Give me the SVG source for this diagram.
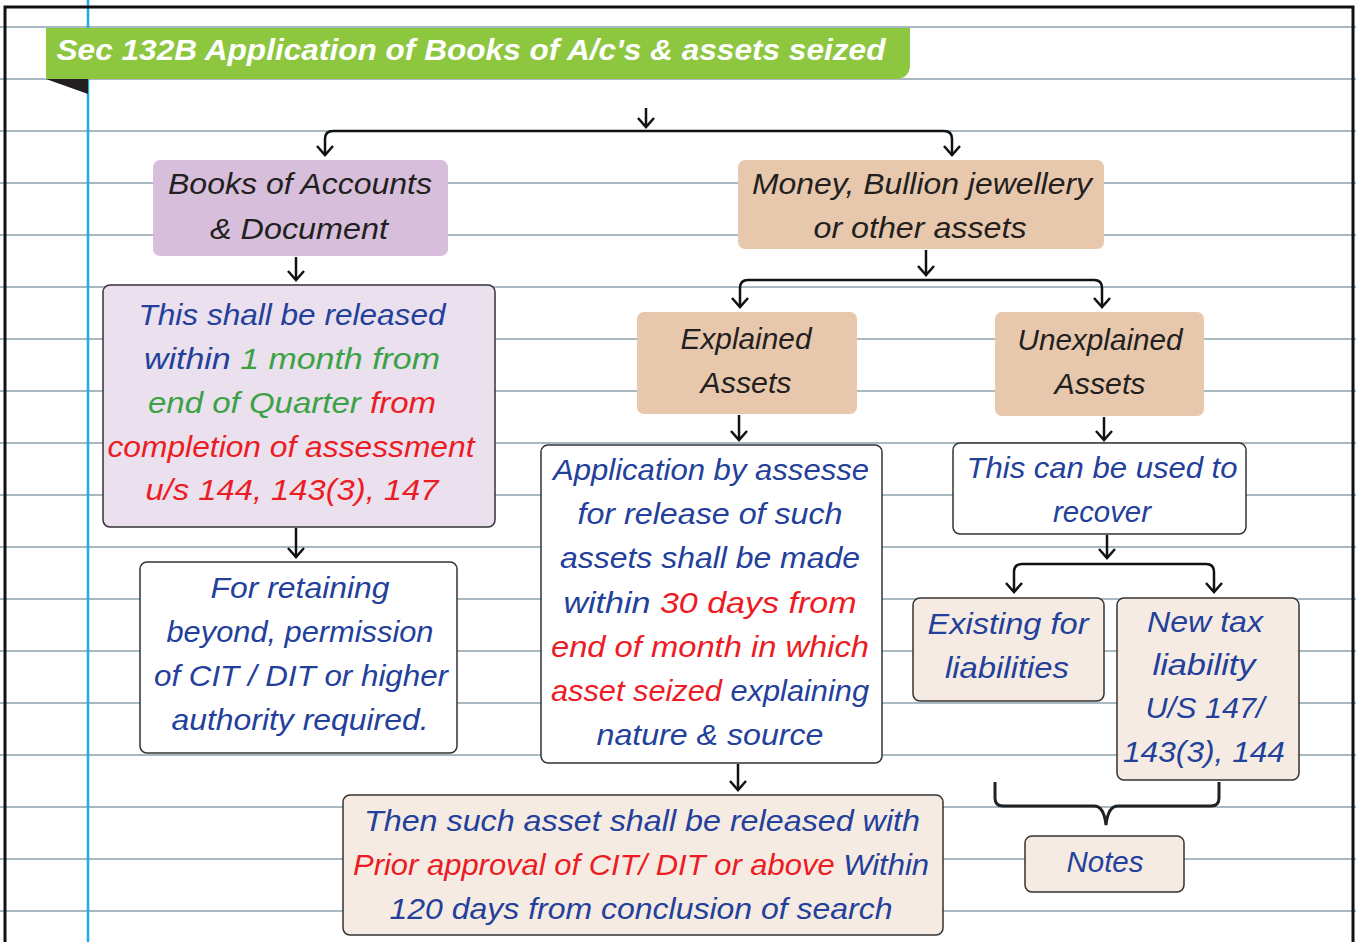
<svg xmlns="http://www.w3.org/2000/svg" width="1356" height="942" viewBox="0 0 1356 942">
  <style>
    .rule { stroke: #8da2ae; stroke-width: 1.6; }
    .t { font-family: "Liberation Sans", "DejaVu Sans", sans-serif; font-style: italic; font-size: 30px; text-anchor: middle; }
    .dk { fill: #231f20; }
    .bl { fill: #23409a; }
    .gr { fill: #3aa245; }
    .rd { fill: #ec1c24; }
    .box { stroke: #333; stroke-width: 1.5; }
    .white { fill: #ffffff; }
    .lav { fill: #ebe0ee; }
    .beige { fill: #f5ebe3; }
    .tan { fill: #e8c8ad; }
    .purple { fill: #d7bfdc; }
    .conn { fill: none; stroke: #111; stroke-width: 2.5; stroke-linejoin: round; }
  </style>
  <defs>
    <marker id="arr" markerWidth="20" markerHeight="20" refX="0" refY="0" orient="auto" markerUnits="userSpaceOnUse" viewBox="-10 -10 20 20" style="overflow:visible">
      <path d="M-9,-8 L0,0 L-9,8" fill="none" stroke="#111" stroke-width="2.5"/>
    </marker>
  </defs>

  <!-- notebook page -->
  <rect x="0" y="0" width="1356" height="942" fill="#ffffff"/>
  <g id="ruling">
    <line class="rule" x1="0" y1="27" x2="1356" y2="27"/>
    <line class="rule" x1="0" y1="79" x2="1356" y2="79"/>
    <line class="rule" x1="0" y1="131" x2="1356" y2="131"/>
    <line class="rule" x1="0" y1="183" x2="1356" y2="183"/>
    <line class="rule" x1="0" y1="235" x2="1356" y2="235"/>
    <line class="rule" x1="0" y1="287" x2="1356" y2="287"/>
    <line class="rule" x1="0" y1="339" x2="1356" y2="339"/>
    <line class="rule" x1="0" y1="391" x2="1356" y2="391"/>
    <line class="rule" x1="0" y1="443" x2="1356" y2="443"/>
    <line class="rule" x1="0" y1="495" x2="1356" y2="495"/>
    <line class="rule" x1="0" y1="547" x2="1356" y2="547"/>
    <line class="rule" x1="0" y1="599" x2="1356" y2="599"/>
    <line class="rule" x1="0" y1="651" x2="1356" y2="651"/>
    <line class="rule" x1="0" y1="703" x2="1356" y2="703"/>
    <line class="rule" x1="0" y1="755" x2="1356" y2="755"/>
    <line class="rule" x1="0" y1="807" x2="1356" y2="807"/>
    <line class="rule" x1="0" y1="859" x2="1356" y2="859"/>
    <line class="rule" x1="0" y1="911" x2="1356" y2="911"/>
    <line x1="88" y1="0" x2="88" y2="942" stroke="#1cace3" stroke-width="2.5"/>
    <path d="M5,942 V7 H1353 V942" fill="none" stroke="#111" stroke-width="3"/>
  </g>

  <!-- title banner -->
  <g id="title">
    <path d="M46,28 H910 V64 Q910,79 895,79 H46 Z" fill="#8dc63f"/>
    <path d="M46,79 H88 V94 Z" fill="#231f20"/>
    <text x="471" y="60" class="t" fill="#ffffff" font-weight="bold" font-size="31" textLength="829" lengthAdjust="spacingAndGlyphs">Sec 132B Application of Books of A/c's &amp; assets seized</text>
  </g>

  <!-- connectors -->
  <g id="connectors">
    <path class="conn" d="M646,108 V127" marker-end="url(#arr)"/>
    <path class="conn" d="M646,131 H333 Q325,131 325,139 V155" marker-end="url(#arr)"/>
    <path class="conn" d="M646,131 H944 Q952,131 952,139 V155" marker-end="url(#arr)"/>
    <path class="conn" d="M296,257 V280" marker-end="url(#arr)"/>
    <path class="conn" d="M296,528 V557" marker-end="url(#arr)"/>
    <path class="conn" d="M926,250 V275" marker-end="url(#arr)"/>
    <path class="conn" d="M926,280 H748 Q740,280 740,288 V307" marker-end="url(#arr)"/>
    <path class="conn" d="M926,280 H1094 Q1102,280 1102,288 V307" marker-end="url(#arr)"/>
    <path class="conn" d="M739,415 V440" marker-end="url(#arr)"/>
    <path class="conn" d="M1104,417 V440" marker-end="url(#arr)"/>
    <path class="conn" d="M1107,535 V558" marker-end="url(#arr)"/>
    <path class="conn" d="M1107,564 H1022 Q1014,564 1014,572 V592" marker-end="url(#arr)"/>
    <path class="conn" d="M1107,564 H1206 Q1214,564 1214,572 V592" marker-end="url(#arr)"/>
    <path class="conn" d="M738,764 V790" marker-end="url(#arr)"/>
    <path d="M995,782 V798 Q995,806 1003,806 H1094 Q1104,806 1106,825 Q1108,806 1118,806 H1211 Q1219,806 1219,798 V782" fill="none" stroke="#222" stroke-width="3"/>
  </g>

  <g id="books">
    <rect class="purple" x="153" y="160" width="295" height="96" rx="7"/>
    <text class="t dk" x="300" y="194" textLength="264" lengthAdjust="spacingAndGlyphs">Books of Accounts</text>
    <text class="t dk" x="299" y="239" textLength="178" lengthAdjust="spacingAndGlyphs">&amp; Document</text>
  </g>

  <g id="release-books">
    <rect class="box lav" x="103" y="285" width="392" height="242" rx="7"/>
    <text class="t bl" x="292" y="325" textLength="307" lengthAdjust="spacingAndGlyphs">This shall be released</text>
    <text class="t" x="292" y="369" textLength="296" lengthAdjust="spacingAndGlyphs"><tspan class="bl">within </tspan><tspan class="gr">1 month from</tspan></text>
    <text class="t" x="292" y="413" textLength="288" lengthAdjust="spacingAndGlyphs"><tspan class="gr">end of Quarter </tspan><tspan class="rd">from</tspan></text>
    <text class="t rd" x="291" y="457" textLength="367" lengthAdjust="spacingAndGlyphs">completion of assessment</text>
    <text class="t rd" x="292" y="500" textLength="293" lengthAdjust="spacingAndGlyphs">u/s 144, 143(3), 147</text>
  </g>

  <g id="retaining">
    <rect class="box white" x="140" y="562" width="317" height="191" rx="7"/>
    <text class="t bl" x="300" y="598" textLength="179" lengthAdjust="spacingAndGlyphs">For retaining</text>
    <text class="t bl" x="300" y="642" textLength="267" lengthAdjust="spacingAndGlyphs">beyond, permission</text>
    <text class="t bl" x="301" y="686" textLength="294" lengthAdjust="spacingAndGlyphs">of CIT / DIT or higher</text>
    <text class="t bl" x="300" y="730" textLength="257" lengthAdjust="spacingAndGlyphs">authority required.</text>
  </g>

  <g id="money">
    <rect class="tan" x="738" y="160" width="366" height="89" rx="7"/>
    <text class="t dk" x="922" y="194" textLength="340" lengthAdjust="spacingAndGlyphs">Money, Bullion jewellery</text>
    <text class="t dk" x="920" y="238" textLength="213" lengthAdjust="spacingAndGlyphs">or other assets</text>
  </g>

  <g id="explained">
    <rect class="tan" x="637" y="312" width="220" height="102" rx="7"/>
    <text class="t dk" x="746" y="349" textLength="131" lengthAdjust="spacingAndGlyphs">Explained</text>
    <text class="t dk" x="746" y="393" textLength="91" lengthAdjust="spacingAndGlyphs">Assets</text>
  </g>

  <g id="unexplained">
    <rect class="tan" x="995" y="312" width="209" height="104" rx="7"/>
    <text class="t dk" x="1100" y="350" textLength="165" lengthAdjust="spacingAndGlyphs">Unexplained</text>
    <text class="t dk" x="1100" y="394" textLength="91" lengthAdjust="spacingAndGlyphs">Assets</text>
  </g>

  <g id="application">
    <rect class="box white" x="541" y="445" width="341" height="318" rx="7"/>
    <text class="t bl" x="711" y="480" textLength="316" lengthAdjust="spacingAndGlyphs">Application by assesse</text>
    <text class="t bl" x="710" y="524" textLength="265" lengthAdjust="spacingAndGlyphs">for release of such</text>
    <text class="t bl" x="710" y="568" textLength="300" lengthAdjust="spacingAndGlyphs">assets shall be made</text>
    <text class="t" x="710" y="613" textLength="293" lengthAdjust="spacingAndGlyphs"><tspan class="bl">within </tspan><tspan class="rd">30 days from</tspan></text>
    <text class="t rd" x="710" y="657" textLength="318" lengthAdjust="spacingAndGlyphs">end of month in which</text>
    <text class="t" x="710" y="701" textLength="318" lengthAdjust="spacingAndGlyphs"><tspan class="rd">asset seized </tspan><tspan class="bl">explaining</tspan></text>
    <text class="t bl" x="710" y="745" textLength="227" lengthAdjust="spacingAndGlyphs">nature &amp; source</text>
  </g>

  <g id="recover">
    <rect class="box white" x="953" y="443" width="293" height="91" rx="7"/>
    <text class="t bl" x="1102" y="478" textLength="271" lengthAdjust="spacingAndGlyphs">This can be used to</text>
    <text class="t bl" x="1102" y="522" textLength="98" lengthAdjust="spacingAndGlyphs">recover</text>
  </g>

  <g id="existing">
    <rect class="box beige" x="913" y="598" width="191" height="103" rx="7"/>
    <text class="t bl" x="1008" y="634" textLength="161" lengthAdjust="spacingAndGlyphs">Existing for</text>
    <text class="t bl" x="1007" y="678" textLength="124" lengthAdjust="spacingAndGlyphs">liabilities</text>
  </g>

  <g id="new-tax">
    <rect class="box beige" x="1117" y="598" width="182" height="182" rx="7"/>
    <text class="t bl" x="1205" y="632" textLength="116" lengthAdjust="spacingAndGlyphs">New tax</text>
    <text class="t bl" x="1204" y="675" textLength="103" lengthAdjust="spacingAndGlyphs">liability</text>
    <text class="t bl" x="1205" y="718" textLength="119" lengthAdjust="spacingAndGlyphs">U/S 147/</text>
    <text class="t bl" x="1204" y="762" textLength="162" lengthAdjust="spacingAndGlyphs">143(3), 144</text>
  </g>

  <g id="then-released">
    <rect class="box beige" x="343" y="795" width="600" height="140" rx="7"/>
    <text class="t bl" x="642" y="831" textLength="556" lengthAdjust="spacingAndGlyphs">Then such asset shall be released with</text>
    <text class="t" x="641" y="875" textLength="576" lengthAdjust="spacingAndGlyphs"><tspan class="rd">Prior approval of CIT/ DIT or above </tspan><tspan class="bl">Within</tspan></text>
    <text class="t bl" x="641" y="919" textLength="503" lengthAdjust="spacingAndGlyphs">120 days from conclusion of search</text>
  </g>

  <g id="notes">
    <rect class="box beige" x="1025" y="836" width="159" height="56" rx="7"/>
    <text class="t bl" x="1105" y="872" textLength="77" lengthAdjust="spacingAndGlyphs">Notes</text>
  </g>
</svg>
